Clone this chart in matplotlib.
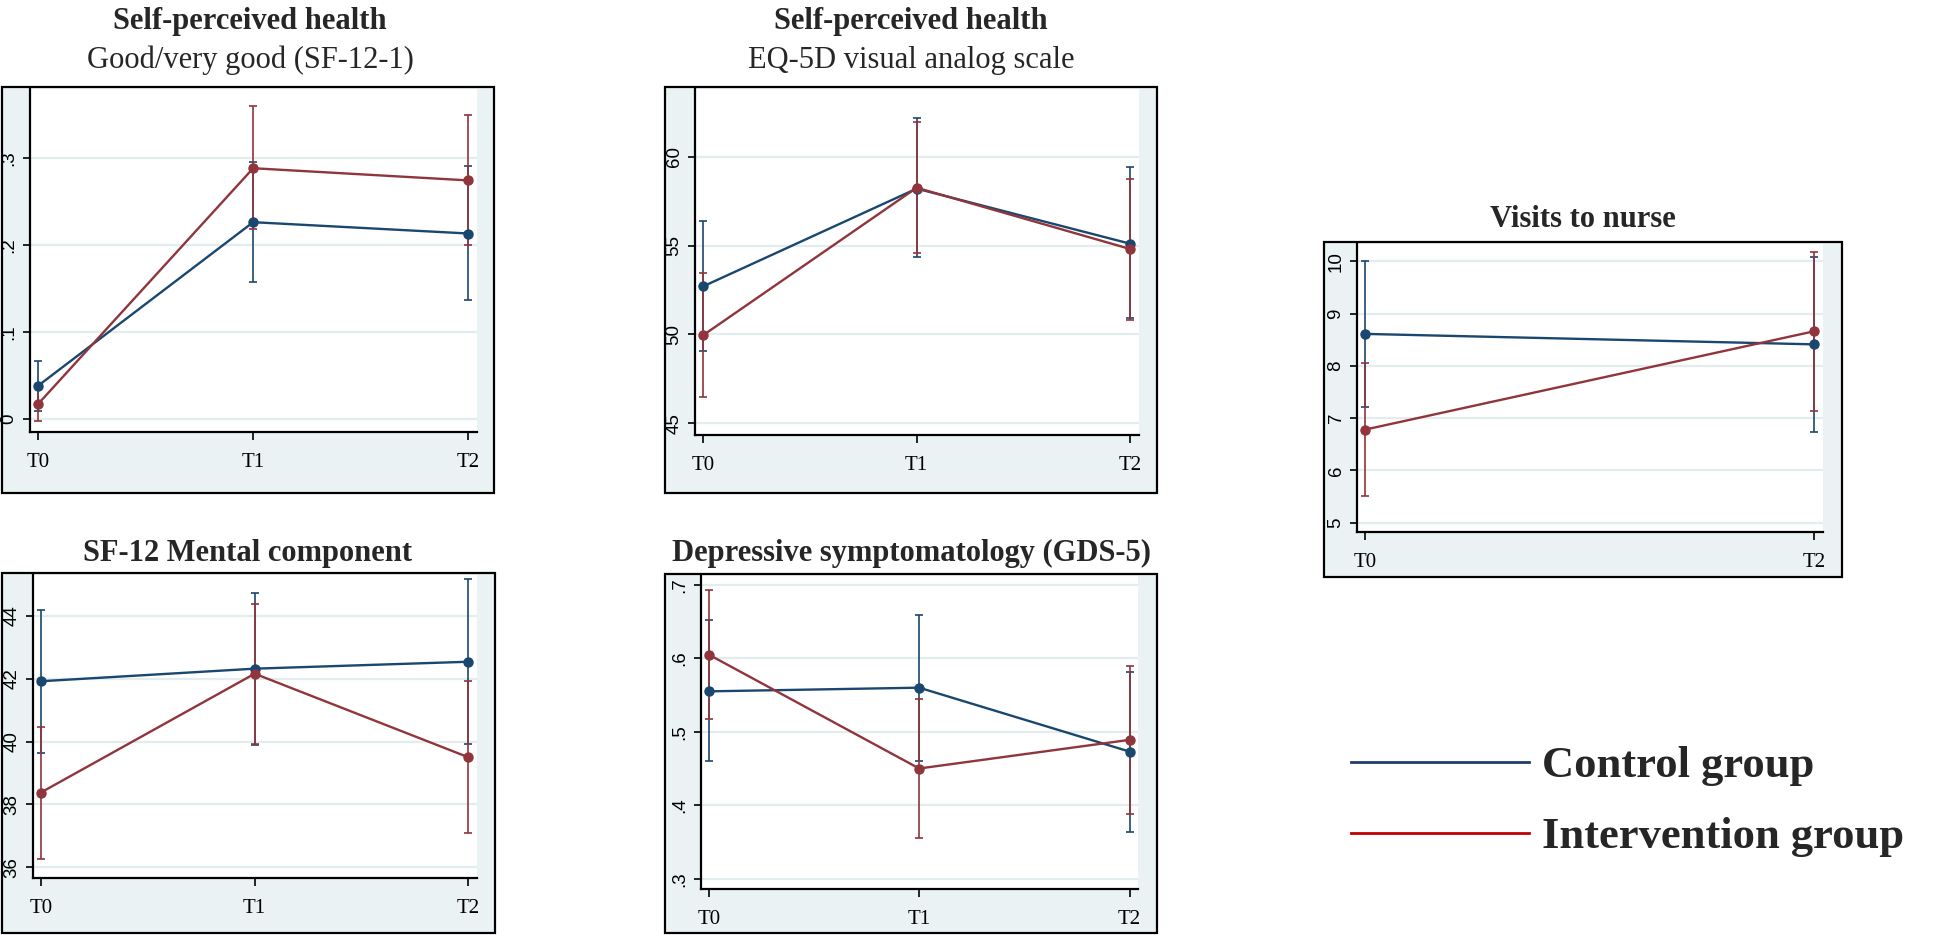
import matplotlib
matplotlib.use("Agg")
import matplotlib.pyplot as plt
from matplotlib.patches import Rectangle
from matplotlib.lines import Line2D

# time points
time_labels = ['T0', 'T1', 'T2']
x3 = [0, 1, 2]
x2 = [0, 2]
labels2 = ['T0', 'T2']

# Self-perceived health: good/very good (SF-12-1)
gvg_ctrl = [0.038, 0.226, 0.213]
gvg_ctrl_lo = [0.009, 0.157, 0.137]
gvg_ctrl_hi = [0.066, 0.295, 0.290]
gvg_int = [0.017, 0.288, 0.274]
gvg_int_lo = [-0.002, 0.218, 0.200]
gvg_int_hi = [0.036, 0.359, 0.349]

# EQ-5D visual analog scale
vas_ctrl = [52.7, 58.2, 55.1]
vas_ctrl_lo = [49.1, 54.35, 50.9]
vas_ctrl_hi = [56.4, 62.15, 59.4]
vas_int = [49.95, 58.25, 54.8]
vas_int_lo = [46.5, 54.6, 50.8]
vas_int_hi = [53.45, 61.95, 58.75]

# Visits to nurse (T0, T2)
nurse_ctrl = [8.61, 8.41]
nurse_ctrl_lo = [7.22, 6.74]
nurse_ctrl_hi = [10.0, 10.09]
nurse_int = [6.78, 8.66]
nurse_int_lo = [5.5, 7.13]
nurse_int_hi = [8.06, 10.18]

# SF-12 mental component
mcs_ctrl = [41.92, 42.32, 42.54]
mcs_ctrl_lo = [39.63, 39.89, 39.93]
mcs_ctrl_hi = [44.19, 44.74, 45.18]
mcs_int = [38.38, 42.16, 39.5]
mcs_int_lo = [36.28, 39.92, 37.09]
mcs_int_hi = [40.47, 44.38, 41.93]

# Depressive symptomatology (GDS-5)
gds_ctrl = [0.555, 0.56, 0.473]
gds_ctrl_lo = [0.46, 0.46, 0.364]
gds_ctrl_hi = [0.652, 0.659, 0.581]
gds_int = [0.605, 0.45, 0.489]
gds_int_lo = [0.517, 0.356, 0.388]
gds_int_hi = [0.693, 0.544, 0.59]

NAVY = '#1a476f'
MAROON = '#90353b'
FRAME_BG = '#eaf2f3'
GRID = '#e3edef'

W, H = 1947, 935
fig = plt.figure(figsize=(W / 100, H / 100), dpi=100)
fig.patch.set_facecolor('white')


def frame(x0, y0, x1, y1):
    r = Rectangle((x0 / W, 1 - y1 / H), (x1 - x0) / W, (y1 - y0) / H,
                  transform=fig.transFigure, facecolor=FRAME_BG,
                  edgecolor='black', linewidth=1.6, zorder=0)
    fig.add_artist(r)


def panel(box, axbox, xs, xlabels, ctrl, clo, chi, intv, ilo, ihi,
          ylim, yticks, ylabels):
    frame(*box)
    l, t, r, b = axbox
    ax = fig.add_axes([l / W, 1 - b / H, (r - l) / W, (b - t) / H])
    ax.set_facecolor('white')
    for yt in yticks:
        ax.axhline(yt, color=GRID, lw=1.6, zorder=0)
    for m, lo, hi, c in [(ctrl, clo, chi, NAVY), (intv, ilo, ihi, MAROON)]:
        yerr = [[mi - a for mi, a in zip(m, lo)], [b2 - mi for mi, b2 in zip(m, hi)]]
        ax.errorbar(xs, m, yerr=yerr, color=c, lw=1.7, marker='o', ms=6.5,
                    elinewidth=1.2, capsize=3, capthick=1.2, zorder=3)
    ax.set_xlim(-0.037, 2.04)
    ax.set_ylim(*ylim)
    ax.set_xticks(xs)
    ax.set_xticklabels(xlabels, family='Liberation Serif', fontsize=15)
    ax.set_yticks(yticks)
    ax.set_yticklabels(ylabels, family='Liberation Sans', fontsize=13.5,
                       rotation=90, va='center')
    ax.tick_params(axis='x', length=6, width=1.2, pad=9)
    ax.tick_params(axis='y', length=5, width=1.2, pad=4)
    for s in ['top', 'right']:
        ax.spines[s].set_visible(False)
    for s in ['left', 'bottom']:
        ax.spines[s].set_linewidth(1.6)
    return ax


# top left
panel((2, 87, 494, 493), (30, 89, 477, 432), x3, time_labels,
      gvg_ctrl, gvg_ctrl_lo, gvg_ctrl_hi, gvg_int, gvg_int_lo, gvg_int_hi,
      (-0.015, 0.379), [0, 0.1, 0.2, 0.3], ['0', '.1', '.2', '.3'])
# top middle
panel((665, 87, 1157, 493), (695, 89, 1139, 435), x3, time_labels,
      vas_ctrl, vas_ctrl_lo, vas_ctrl_hi, vas_int, vas_int_lo, vas_int_hi,
      (44.35, 63.8), [45, 50, 55, 60], ['45', '50', '55', '60'])
# right
panel((1324, 242, 1842, 577), (1357, 244, 1823, 532), x2, labels2,
      nurse_ctrl, nurse_ctrl_lo, nurse_ctrl_hi, nurse_int, nurse_int_lo, nurse_int_hi,
      (4.82, 10.33), [5, 6, 7, 8, 9, 10], ['5', '6', '7', '8', '9', '10'])
# bottom left
panel((2, 573, 495, 933), (33, 575, 477, 878), x3, time_labels,
      mcs_ctrl, mcs_ctrl_lo, mcs_ctrl_hi, mcs_int, mcs_int_lo, mcs_int_hi,
      (35.66, 45.3), [36, 38, 40, 42, 44], ['36', '38', '40', '42', '44'])
# bottom middle
panel((665, 574, 1157, 933), (701, 576, 1138, 889), x3, time_labels,
      gds_ctrl, gds_ctrl_lo, gds_ctrl_hi, gds_int, gds_int_lo, gds_int_hi,
      (0.286, 0.712), [0.3, 0.4, 0.5, 0.6, 0.7], ['.3', '.4', '.5', '.6', '.7'])

# titles
tkw = dict(family='Liberation Serif', ha='center', va='baseline', color='#262626')
fig.text(250 / W, 1 - 29 / H, 'Self-perceived health', fontsize=22, weight='bold', **tkw)
fig.text(250 / W, 1 - 68 / H, 'Good/very good (SF-12-1)', fontsize=22, **tkw)
fig.text(911 / W, 1 - 29 / H, 'Self-perceived health', fontsize=22, weight='bold', **tkw)
fig.text(911 / W, 1 - 68 / H, 'EQ-5D visual analog scale', fontsize=22, **tkw)
fig.text(1583 / W, 1 - 227 / H, 'Visits to nurse', fontsize=22, weight='bold', **tkw)
fig.text(248 / W, 1 - 561 / H, 'SF-12 Mental component', fontsize=22, weight='bold', **tkw)
fig.text(911 / W, 1 - 561 / H, 'Depressive symptomatology (GDS-5)', fontsize=22, weight='bold', **tkw)

# legend
handles = [Line2D([], [], color='#1f3d6e', lw=2),
           Line2D([], [], color='#c00000', lw=2)]
leg = fig.legend(handles, ['Control group', 'Intervention group'],
                 loc='upper left', bbox_to_anchor=(1311 / W, 1 - 706 / H),
                 frameon=False, handlelength=4.0, handletextpad=0.3,
                 labelspacing=0.7,
                 prop={'family': 'Liberation Serif', 'weight': 'bold', 'size': 32})
for txt in leg.get_texts():
    txt.set_color('#262626')

fig.savefig('out.png', dpi=100)
